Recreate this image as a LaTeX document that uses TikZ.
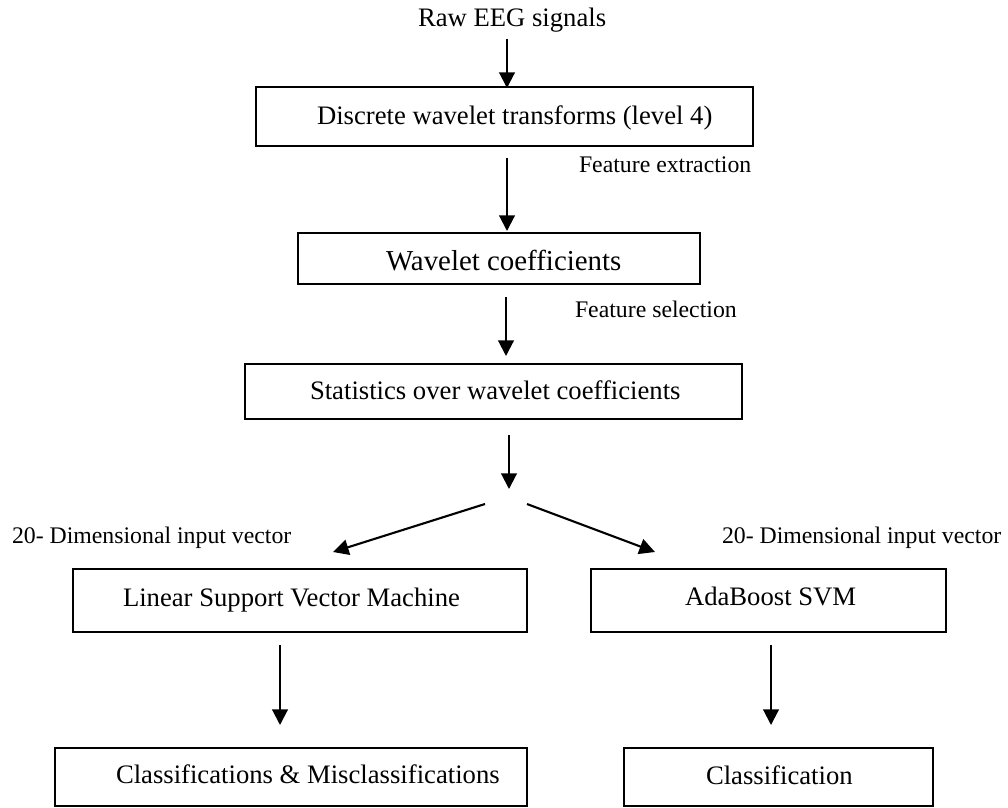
\documentclass[tikz,border=0pt]{standalone}
\usepackage{fontspec}
\setmainfont{Liberation Serif}
\usetikzlibrary{arrows.meta}
\newdimen\pxu \pxu=0.45pt
\tikzset{
  box/.style={draw, line width=0.75pt, inner sep=0pt, outer sep=0pt},
  txt/.style={inner sep=0pt, outer sep=0pt, anchor=base west, font=\fontsize{12}{14}\selectfont},
  small/.style={inner sep=0pt, outer sep=0pt, anchor=base west, font=\fontsize{10.7}{13}\selectfont},
  arr/.style={line width=0.95pt, -{Triangle[length=7pt, width=7pt]}}
}
\begin{document}
\begin{tikzpicture}[x=0.45pt, y=-0.45pt]
\useasboundingbox (0,0) rectangle (1008,807);
% boxes
\node[box, minimum width=497\pxu, minimum height=59\pxu] (b1) at (504.5,116.5) {};
\node[box, minimum width=402\pxu, minimum height=51\pxu] (b2) at (499,258.5) {};
\node[box, minimum width=497\pxu, minimum height=55\pxu] (b3) at (493.5,391.5) {};
\node[box, minimum width=454\pxu, minimum height=63\pxu] (b4) at (300,600.5) {};
\node[box, minimum width=355\pxu, minimum height=63\pxu] (b5) at (768.5,600.5) {};
\node[box, minimum width=472\pxu, minimum height=58\pxu] (b6) at (291,777) {};
\node[box, minimum width=309\pxu, minimum height=58\pxu] (b7) at (778.5,777) {};
% texts
\node[txt] (raw) at (418,27) {Raw EEG signals};
\node[txt] (t1) at (317,125) {Discrete wavelet transforms (level 4)};
\node[small] (fe) at (579,172) {Feature extraction};
\node[txt, font=\fontsize{13}{15}\selectfont] (t2) at (386,270) {Wavelet coefficients};
\node[small] (fs) at (575,317) {Feature selection};
\node[txt] (t3) at (310,399) {Statistics over wavelet coefficients};
\node[small] (dl) at (12,543) {20- Dimensional input vector};
\node[small] (dr) at (722,543) {20- Dimensional input vector};
\node[txt] (t4) at (123,606) {Linear Support Vector Machine};
\node[txt] (t5) at (685,605) {AdaBoost SVM};
\node[txt] (t6) at (116,783) {Classifications \& Misclassifications};
\node[txt] (t7) at (706,784) {Classification};
% helper coordinates
\coordinate (xa) at (507,0);
\coordinate (xb) at (506,0);
\coordinate (xc) at (509,0);
\coordinate (xl) at (280,0);
\coordinate (xr) at (771,0);
\coordinate (sp) at (509,489);
\coordinate (sl) at (485,504);
\coordinate (sr) at (527,504);
\coordinate (tl) at (333,552);
\coordinate (tr) at (655,552);
% arrows
\draw[arr, shorten <=6\pxu, shorten >=-1\pxu] (raw.south -| xa) -- (b1.north -| xa);
\draw[arr, shorten <=12\pxu, shorten >=2\pxu] (b1.south -| xa) -- (b2.north -| xa);
\draw[arr, shorten <=13\pxu, shorten >=8\pxu] (b2.south -| xb) -- (b3.north -| xb);
\draw[arr, shorten <=16\pxu] (b3.south -| xc) -- (sp);
\draw[arr] (sl) -- (tl);
\draw[arr] (sr) -- (tr);
\draw[arr, shorten <=13\pxu, shorten >=23\pxu] (b4.south -| xl) -- (b6.north -| xl);
\draw[arr, shorten <=13\pxu, shorten >=23\pxu] (b5.south -| xr) -- (b7.north -| xr);
\end{tikzpicture}
\end{document}
